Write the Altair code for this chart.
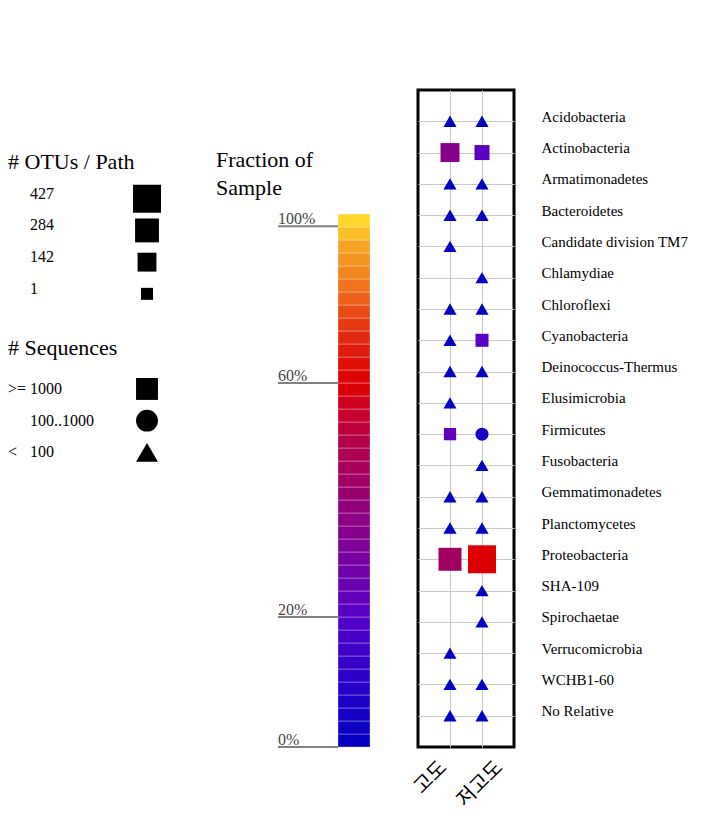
import altair as alt
import pandas as pd
import numpy as np

# ---------------- data ----------------
phyla = ["Acidobacteria", "Actinobacteria", "Armatimonadetes", "Bacteroidetes",
         "Candidate division TM7", "Chlamydiae", "Chloroflexi", "Cyanobacteria",
         "Deinococcus-Thermus", "Elusimicrobia", "Firmicutes", "Fusobacteria",
         "Gemmatimonadetes", "Planctomycetes", "Proteobacteria", "SHA-109",
         "Spirochaetae", "Verrucomicrobia", "WCHB1-60", "No Relative"]
samples = ["고도", "저고도"]

# sequence class per phylum (None = not detected)
seq_high = ["<100", ">=1000", "<100", "<100", "<100", None, "<100", "<100", "<100", "<100",
            ">=1000", None, "<100", "<100", ">=1000", None, None, "<100", "<100", "<100"]
seq_low = ["<100", ">=1000", "<100", "<100", None, "<100", "<100", ">=1000", "<100", None,
           "100..1000", "<100", "<100", "<100", ">=1000", "<100", "<100", None, "<100", "<100"]
# number of OTUs per path
otu_high = [20, 145, 20, 22, 18, None, 20, 20, 22, 18, 5, None, 20, 22, 257, None, None, 18, 20, 22]
otu_low = [20, 55, 20, 22, None, 18, 20, 18, 22, None, 18, 20, 20, 22, 427, 20, 20, None, 20, 22]
# fraction of sample
frac_high = [0.01, 0.35, 0.01, 0.01, 0.01, None, 0.01, 0.01, 0.01, 0.01, 0.23, None, 0.01, 0.01, 0.44,
             None, None, 0.01, 0.01, 0.01]
frac_low = [0.01, 0.22, 0.01, 0.01, None, 0.01, 0.01, 0.21, 0.01, None, 0.05, 0.01, 0.01, 0.01, 0.60,
            0.01, 0.01, None, 0.01, 0.01]

# legend values
otu_legend = [427, 284, 142, 1]
seq_classes = [">=1000", "100..1000", "<100"]
seq_prefix = [">=", "", "<"]
seq_label = ["1000", "100..1000", "100"]

# colour bar: tick labels and where they sit along the bar (0 = bottom, 1 = top)
tick_vals = [0.0, 0.2, 0.6, 1.0]
tick_labels = ["0%", "20%", "60%", "100%"]
tick_pos = [0.0, 0.244, 0.683, 0.977]
n_segments = 41

# colour ramp (fraction -> colour)
ramp_f = [0.0, 0.10, 0.20, 0.30, 0.40, 0.50, 0.55, 0.60, 0.70, 0.78, 0.83, 0.89, 0.96, 1.00, 1.04]
ramp_c = ["#0000C0", "#2A00C8", "#5500C8", "#7800A0", "#960074", "#B4004A", "#C80028", "#DD0000",
          "#E02010", "#E84A14", "#F06A1A", "#F48A20", "#F8A824", "#FFD028", "#FFE434"]

# ---------------- tables ----------------
rows = []
for s, seqs, otus, fracs in [(samples[0], seq_high, otu_high, frac_high),
                             (samples[1], seq_low, otu_low, frac_low)]:
    for p, q, o, f in zip(phyla, seqs, otus, fracs):
        if q is not None:
            rows.append({"phylum": p, "sample": s, "seq": q, "otus": o, "frac": f})
main_df = pd.DataFrame(rows)


def pos_to_frac(p):
    if p <= tick_pos[-1]:
        return float(np.interp(p, tick_pos, tick_vals))
    slope = (tick_vals[-1] - tick_vals[-2]) / (tick_pos[-1] - tick_pos[-2])
    return tick_vals[-1] + (p - tick_pos[-1]) * slope


seg = pd.DataFrame({"k": range(n_segments)})
seg["lo"] = seg["k"] / n_segments
seg["hi"] = (seg["k"] + 1) / n_segments
seg["frac"] = [pos_to_frac((a + b) / 2) for a, b in zip(seg["lo"], seg["hi"])]
ticks_df = pd.DataFrame({"pos": tick_pos, "label": tick_labels})

legend_rows = ["s1", "s2", "t1", "427", "284", "142", "1", "gap", "t2", "ge", "mid", "lt"]
otu_leg_df = pd.DataFrame({"row": ["427", "284", "142", "1"], "otus": otu_legend,
                           "label": [str(v) for v in otu_legend]})
seq_leg_df = pd.DataFrame({"row": ["ge", "mid", "lt"], "seq": seq_classes,
                           "prefix": seq_prefix, "label": seq_label})
titles_df = pd.DataFrame({"row": ["t1", "t2"], "text": ["# OTUs / Path", "# Sequences"]})

# ---------------- shared scales ----------------
SERIF = "Liberation Serif"
size_scale = alt.Scale(type="linear", domain=[1, 427], range=[144, 784])
shape_scale = alt.Scale(domain=seq_classes, range=["square", "circle", "triangle-up"])
color_scale = alt.Scale(type="linear", domain=ramp_f, range=ramp_c, interpolate="rgb")

PANEL_H = 657
BAR_H = 533

# ---------------- panel 1: size / shape legend ----------------
ly = alt.Scale(type="point", domain=legend_rows, padding=0.43)

t1 = alt.Chart(titles_df).transform_filter("datum.row == 't1'").mark_text(
    align="left", baseline="middle", font=SERIF, fontSize=22, dy=-5, color="black"
).encode(x=alt.value(0), y=alt.Y("row:N", scale=ly, axis=None), text="text:N")
t2 = alt.Chart(titles_df).transform_filter("datum.row == 't2'").mark_text(
    align="left", baseline="middle", font=SERIF, fontSize=22, dy=-9, color="black"
).encode(x=alt.value(0), y=alt.Y("row:N", scale=ly, axis=None), text="text:N")
otu_txt = alt.Chart(otu_leg_df).mark_text(
    align="left", baseline="middle", font=SERIF, fontSize=16, dy=-5, color="black"
).encode(x=alt.value(22), y=alt.Y("row:N", scale=ly, axis=None), text="label:N")
otu_sym = alt.Chart(otu_leg_df).mark_point(
    shape="square", filled=True, color="black", opacity=1
).encode(x=alt.value(139), y=alt.Y("row:N", scale=ly, axis=None),
         size=alt.Size("otus:Q", scale=size_scale, legend=None))
seq_pre = alt.Chart(seq_leg_df).mark_text(
    align="left", baseline="middle", font=SERIF, fontSize=16, color="black"
).encode(x=alt.value(0), y=alt.Y("row:N", scale=ly, axis=None), text="prefix:N")
seq_txt = alt.Chart(seq_leg_df).mark_text(
    align="left", baseline="middle", font=SERIF, fontSize=16, color="black"
).encode(x=alt.value(22), y=alt.Y("row:N", scale=ly, axis=None), text="label:N")
seq_sym = alt.Chart(seq_leg_df).mark_point(
    filled=True, color="black", opacity=1, size=480
).encode(x=alt.value(139), y=alt.Y("row:N", scale=ly, axis=None),
         shape=alt.Shape("seq:N", scale=shape_scale, legend=None))

panel1 = alt.layer(t1, t2, otu_txt, otu_sym, seq_pre, seq_txt, seq_sym).properties(
    width=208, height=376)

# ---------------- panel 2: colour bar ----------------
by = alt.Scale(domain=[0, PANEL_H / BAR_H], nice=False, zero=True)

bar = alt.Chart(seg).mark_rect(stroke="white", strokeOpacity=0.3, strokeWidth=1).encode(
    x=alt.value(122), x2=alt.value(154),
    y=alt.Y("lo:Q", scale=by, axis=None), y2="hi:Q",
    color=alt.Color("frac:Q", scale=color_scale, legend=None))
trule = alt.Chart(ticks_df).mark_rule(color="#808080", strokeWidth=2).encode(
    x=alt.value(62), x2=alt.value(122), y=alt.Y("pos:Q", scale=by, axis=None))
ttext = alt.Chart(ticks_df).mark_text(
    align="left", baseline="alphabetic", font=SERIF, fontSize=16, dy=-2, color="#444444"
).encode(x=alt.value(62), y=alt.Y("pos:Q", scale=by, axis=None), text="label:N")
ctitle = alt.Chart(pd.DataFrame({"t": ["Fraction of Sample"]})).mark_text(
    align="left", baseline="top", font=SERIF, fontSize=22, lineHeight=28, color="black"
).encode(x=alt.value(0), y=alt.value(60), text=alt.value(["Fraction of", "Sample"]))

panel2 = alt.layer(bar, trule, ttext, ctitle).properties(width=192, height=PANEL_H)

# ---------------- panel 3: main grid ----------------
panel3 = alt.Chart(main_df).mark_point(filled=True, opacity=1, strokeWidth=0).encode(
    x=alt.X("sample:N", scale=alt.Scale(type="point", domain=samples, padding=1),
            axis=alt.Axis(title=None, labelAngle=315, labelFont="Noto Sans CJK KR",
                          labelFontSize=20, labelColor="black", ticks=False, tickSize=0,
                          domain=False, grid=True, gridColor="#c8c8c8", gridWidth=1,
                          labelPadding=10,
                          labelOffset={"condition": {"test": "datum.value === '고도'",
                                                     "value": -14},
                                       "value": 10})),
    y=alt.Y("phylum:N", scale=alt.Scale(type="point", domain=phyla, padding=1),
            axis=alt.Axis(orient="right", title=None, ticks=False, tickSize=0, domain=False,
                          grid=True, gridColor="#c8c8c8", gridWidth=1, labelFont=SERIF,
                          labelFontSize=15, labelColor="black", labelPadding=27,
                          labelBaseline="alphabetic")),
    shape=alt.Shape("seq:N", scale=shape_scale, legend=None),
    size=alt.Size("otus:Q", scale=size_scale, legend=None),
    color=alt.Color("frac:Q", scale=color_scale, legend=None),
).properties(width=96, height=PANEL_H,
             view=alt.ViewBackground(stroke="black", strokeWidth=3))

chart = alt.hconcat(panel1, panel2, panel3, spacing=0).properties(
    padding={"left": 0, "top": 80, "right": 5, "bottom": 5}
).configure_view(stroke=None)

chart.save("out.html", embed_options={"renderer": "svg", "actions": False})
